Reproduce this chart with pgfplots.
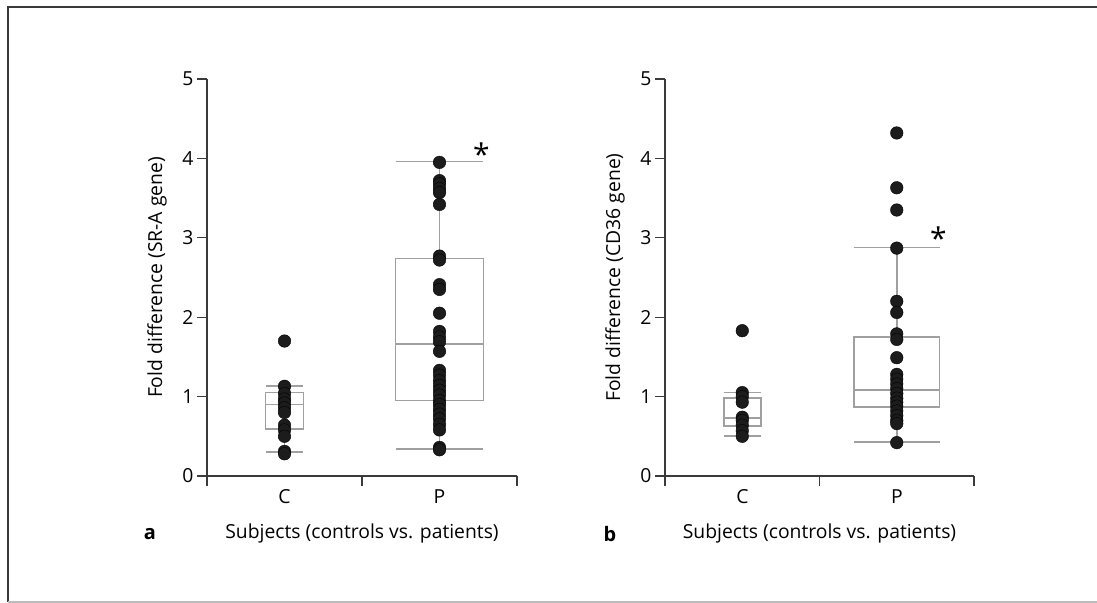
\documentclass[border=0pt]{standalone}
\usepackage{fontspec}
\setmainfont{Open Sans}
\usepackage{pgfplots}
\pgfplotsset{compat=1.18}
\usepgfplotslibrary{statistics}

\definecolor{axcol}{HTML}{3A3A3A}
\definecolor{boxcol}{HTML}{A0A0A0}
\definecolor{dotcol}{HTML}{1C1C1C}

\pgfplotsset{
  panel/.style={
    scale only axis, height=397bp,
    xmin=0, xmax=2, ymin=0, ymax=5,
    axis x line*=bottom, axis y line*=left,
    axis line style={draw=axcol, line width=1.2bp, -},
    tick style={draw=axcol, line width=1.2bp},
    tick align=outside, major tick length=10bp,
    xtick={0,1,2}, xticklabels={C,P,{}},
    xticklabel style={xshift=77.5bp},
    ytick={0,1,2,3,4,5},
    /pgf/number format/assume math mode=true,
    xlabel={Subjects (controls vs. patients)},
    xlabel style={at={(axis description cs:0.5,0)}, anchor=center, yshift=-57bp},
    clip=false,
  },
  dots/.style={only marks, mark=*, mark size=6.3bp, mark options={fill=dotcol, draw=none}},
  bx/.style={draw=boxcol, line width=1.6bp, solid},
}

\begin{document}
\begin{tikzpicture}[x=1bp, y=1bp, font=\fontsize{19.4}{22}\selectfont]
\useasboundingbox (0,0) rectangle (1097,603);
\draw[axcol, line width=1.8bp] (8,1) -- (8,596) -- (1097,596);
\draw[boxcol!70, line width=1.2bp] (8,1) -- (1097,1);

% panel a: SR-A
\begin{axis}[panel, width=310bp, at={(207bp,127bp)}, anchor=south west,
  ylabel={Fold difference (SR-A gene)},
  ylabel style={at={(axis description cs:-0.1613,0.5)}, anchor=center}]
\addplot[dots] coordinates {
  (0.5,1.70) (0.5,1.13) (0.5,1.04) (0.5,0.97) (0.5,0.92) (0.5,0.86)
  (0.5,0.80) (0.5,0.64) (0.5,0.58) (0.5,0.50) (0.5,0.31) (0.5,0.28)};
\addplot[dots] coordinates {
  (1.5,3.95) (1.5,3.72) (1.5,3.68) (1.5,3.62) (1.5,3.57) (1.5,3.42)
  (1.5,2.77) (1.5,2.72) (1.5,2.41) (1.5,2.35) (1.5,2.05) (1.5,1.82)
  (1.5,1.75) (1.5,1.69) (1.5,1.57) (1.5,1.33) (1.5,1.27) (1.5,1.20)
  (1.5,1.14) (1.5,1.08) (1.5,1.02) (1.5,0.95) (1.5,0.90) (1.5,0.84)
  (1.5,0.78) (1.5,0.72) (1.5,0.65) (1.5,0.58) (1.5,0.36) (1.5,0.33)};
\addplot[bx, boxplot/draw direction=y, boxplot prepared={
  lower whisker=0.30, lower quartile=0.59, median=0.90,
  upper quartile=1.05, upper whisker=1.13,
  draw position=0.5, box extend=0.245, whisker extend=0.245}] coordinates {};
\addplot[bx, boxplot/draw direction=y, boxplot prepared={
  lower whisker=0.34, lower quartile=0.95, median=1.66,
  upper quartile=2.74, upper whisker=3.96,
  draw position=1.5, box extend=0.566, whisker extend=0.566}] coordinates {};
\node[font=\fontsize{30}{30}\selectfont] at (axis cs:1.77,4.05) {*};
\node[font=\fontsize{20}{22}\selectfont\bfseries] at (axis description cs:-0.184,-0.146) {a};
\end{axis}

% panel b: CD36
\begin{axis}[panel, width=309bp, at={(665bp,127bp)}, anchor=south west,
  ylabel={Fold difference (CD36 gene)},
  ylabel style={at={(axis description cs:-0.1618,0.5)}, anchor=center}]
\addplot[dots] coordinates {
  (0.5,1.83) (0.5,1.05) (0.5,1.00) (0.5,0.93) (0.5,0.74) (0.5,0.70)
  (0.5,0.64) (0.5,0.57) (0.5,0.50)};
\addplot[dots] coordinates {
  (1.5,4.32) (1.5,3.63) (1.5,3.35) (1.5,2.87) (1.5,2.20) (1.5,2.06)
  (1.5,1.79) (1.5,1.72) (1.5,1.49) (1.5,1.28) (1.5,1.22) (1.5,1.16)
  (1.5,1.10) (1.5,1.04) (1.5,0.98) (1.5,0.93) (1.5,0.88) (1.5,0.82)
  (1.5,0.76) (1.5,0.70) (1.5,0.66) (1.5,0.42)};
\addplot[bx, boxplot/draw direction=y, boxplot prepared={
  lower whisker=0.50, lower quartile=0.63, median=0.73,
  upper quartile=0.98, upper whisker=1.05,
  draw position=0.5, box extend=0.24, whisker extend=0.24}] coordinates {};
\addplot[bx, boxplot/draw direction=y, boxplot prepared={
  lower whisker=0.43, lower quartile=0.87, median=1.08,
  upper quartile=1.75, upper whisker=2.88,
  draw position=1.5, box extend=0.555, whisker extend=0.555}] coordinates {};
\node[font=\fontsize{30}{30}\selectfont] at (axis cs:1.77,3.0) {*};
\node[font=\fontsize{20}{22}\selectfont\bfseries] at (axis description cs:-0.178,-0.146) {b};
\end{axis}
\end{tikzpicture}
\end{document}
